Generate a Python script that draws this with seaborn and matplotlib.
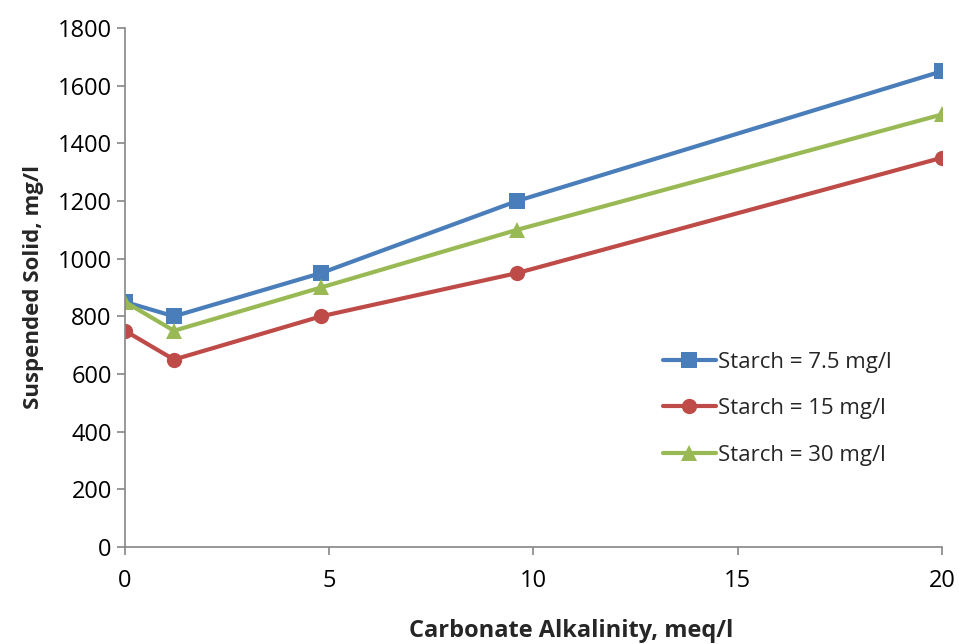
import matplotlib
matplotlib.use("Agg")
import matplotlib.pyplot as plt
import pandas as pd
import seaborn as sns

alkalinity = [0, 1.2, 4.8, 9.6, 20]
starch_7_5 = [850, 800, 950, 1200, 1650]
starch_15 = [750, 650, 800, 950, 1350]
starch_30 = [850, 750, 900, 1100, 1500]
series_names = ["Starch = 7.5 mg/l", "Starch = 15 mg/l", "Starch = 30 mg/l"]

frames = []
for name, values in zip(series_names, [starch_7_5, starch_15, starch_30]):
    frames.append(pd.DataFrame({"x": alkalinity, "y": values, "series": name}))
df = pd.concat(frames, ignore_index=True)

sns.set_theme(style="white")
plt.rcParams["font.family"] = ["Open Sans", "DejaVu Sans"]

fig = plt.figure(figsize=(9.59, 6.44), dpi=100)
ax = fig.add_axes([0.1303, 0.1506, 0.852, 0.806])

palette = {series_names[0]: "#4a7ebb", series_names[1]: "#be4b48", series_names[2]: "#98b954"}
markers = {series_names[0]: "s", series_names[1]: "o", series_names[2]: "^"}
sns.lineplot(
    data=df, x="x", y="y", hue="series", style="series",
    palette=palette, markers=markers, dashes=False,
    linewidth=3, markersize=11, markeredgewidth=0, ax=ax,
)

ax.set_xlim(0, 20)
ax.set_ylim(0, 1800)
ax.set_xticks([0, 5, 10, 15, 20])
ax.set_yticks(range(0, 1801, 200))
for side in ("top", "right"):
    ax.spines[side].set_visible(False)
for side in ("left", "bottom"):
    ax.spines[side].set_color("#868686")
    ax.spines[side].set_linewidth(1.2)
ax.tick_params(axis="both", direction="out", length=6, width=1.2, color="#868686",
               labelsize=17, labelcolor="black", left=True, bottom=True)
ax.tick_params(axis="x", pad=10)
ax.set_xlabel("Carbonate Alkalinity, meq/l", fontsize=17, fontweight="bold")
ax.xaxis.set_label_coords(0.546, -0.138)
ax.set_ylabel("Suspended Solid, mg/l", fontsize=16, fontweight="bold", labelpad=10)

leg = ax.legend(loc="lower right", bbox_to_anchor=(0.963, 0.118), frameon=False,
                fontsize=16, handlelength=2.4, handletextpad=0.1, labelspacing=1.15)

fig.savefig("out.png", dpi=100)
